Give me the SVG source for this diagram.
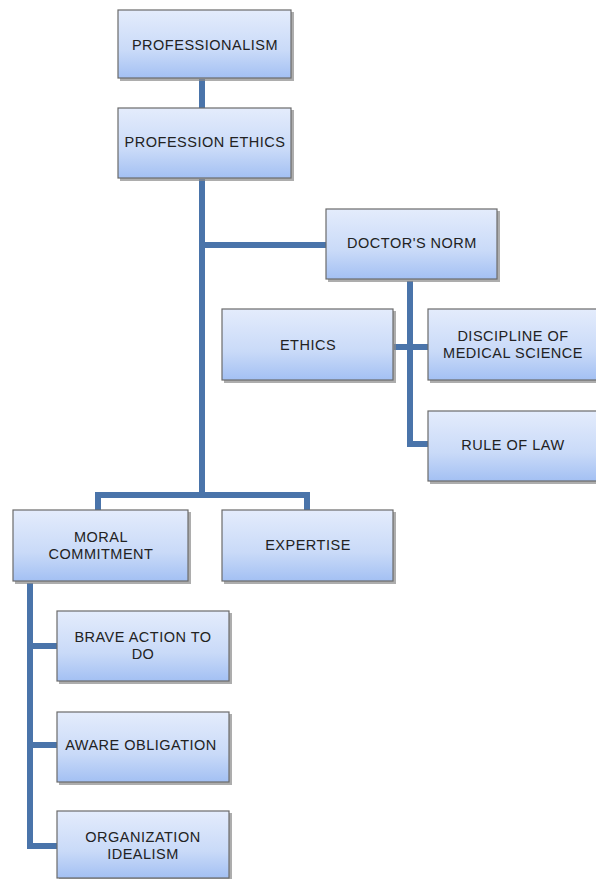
<svg xmlns="http://www.w3.org/2000/svg" width="596" height="879" viewBox="0 0 596 879">
<defs>
<linearGradient id="g" x1="0" y1="0" x2="0" y2="1">
<stop offset="0" stop-color="#e4ecfc"/>
<stop offset="0.6" stop-color="#c9daf8"/>
<stop offset="1" stop-color="#a3c0f3"/>
</linearGradient>
</defs>
<style>
.box{fill:url(#g);stroke:#6b6b6b;stroke-width:1.2}
.sh{fill:#8a8a8a;opacity:0.7}
.t{font-family:"Liberation Sans",Arial,sans-serif;font-size:14.5px;letter-spacing:0.5px;fill:#222;text-anchor:middle;dominant-baseline:central}
.c{fill:none;stroke:#4a74aa;stroke-width:6;stroke-linejoin:miter}
</style>
<g id="connectors">
<path class="c" d="M202,79 V108"/>
<path class="c" d="M202,179 V495"/>
<path class="c" d="M202,245 H326"/>
<path class="c" d="M98,510 V495 H307 V510"/>
<path class="c" d="M410,281 V444 H428"/>
<path class="c" d="M394,347 H428"/>
<path class="c" d="M30,583 V846 H57"/>
<path class="c" d="M30,646 H57"/>
<path class="c" d="M30,745 H57"/>
</g>
<g id="professionalism">
<rect class="sh" x="120" y="12" width="174" height="69"/>
<rect class="box" x="118" y="10" width="173" height="68"/>
<text class="t" x="205" y="45">PROFESSIONALISM</text>
</g>
<g id="profession-ethics">
<rect class="sh" x="120" y="110" width="174" height="71"/>
<rect class="box" x="118" y="108" width="173" height="70"/>
<text class="t" x="205" y="142">PROFESSION ETHICS</text>
</g>
<g id="doctors-norm">
<rect class="sh" x="328" y="211" width="172" height="71"/>
<rect class="box" x="326" y="209" width="171" height="70"/>
<text class="t" x="412" y="243">DOCTOR'S NORM</text>
</g>
<g id="ethics">
<rect class="sh" x="224" y="311" width="172" height="72"/>
<rect class="box" x="222" y="309" width="171" height="71"/>
<text class="t" x="308" y="345">ETHICS</text>
</g>
<g id="discipline">
<rect class="sh" x="430" y="311" width="172" height="72"/>
<rect class="box" x="428" y="309" width="171" height="71"/>
<text class="t" x="513" y="336">DISCIPLINE OF</text>
<text class="t" x="513" y="353">MEDICAL SCIENCE</text>
</g>
<g id="rule-of-law">
<rect class="sh" x="430" y="413" width="172" height="71"/>
<rect class="box" x="428" y="411" width="171" height="70"/>
<text class="t" x="513" y="445">RULE OF LAW</text>
</g>
<g id="moral-commitment">
<rect class="sh" x="15" y="512" width="176" height="72"/>
<rect class="box" x="13" y="510" width="175" height="71"/>
<text class="t" x="101" y="537">MORAL</text>
<text class="t" x="101" y="554">COMMITMENT</text>
</g>
<g id="expertise">
<rect class="sh" x="224" y="512" width="172" height="72"/>
<rect class="box" x="222" y="510" width="171" height="71"/>
<text class="t" x="308" y="545">EXPERTISE</text>
</g>
<g id="brave-action">
<rect class="sh" x="59" y="613" width="173" height="71"/>
<rect class="box" x="57" y="611" width="172" height="70"/>
<text class="t" x="143" y="637">BRAVE ACTION TO</text>
<text class="t" x="143" y="654">DO</text>
</g>
<g id="aware-obligation">
<rect class="sh" x="59" y="714" width="173" height="71"/>
<rect class="box" x="57" y="712" width="172" height="70"/>
<text class="t" x="141" y="745">AWARE OBLIGATION</text>
</g>
<g id="organization-idealism">
<rect class="sh" x="59" y="813" width="173" height="68"/>
<rect class="box" x="57" y="811" width="172" height="67"/>
<text class="t" x="143" y="837">ORGANIZATION</text>
<text class="t" x="143" y="854">IDEALISM</text>
</g>
</svg>
